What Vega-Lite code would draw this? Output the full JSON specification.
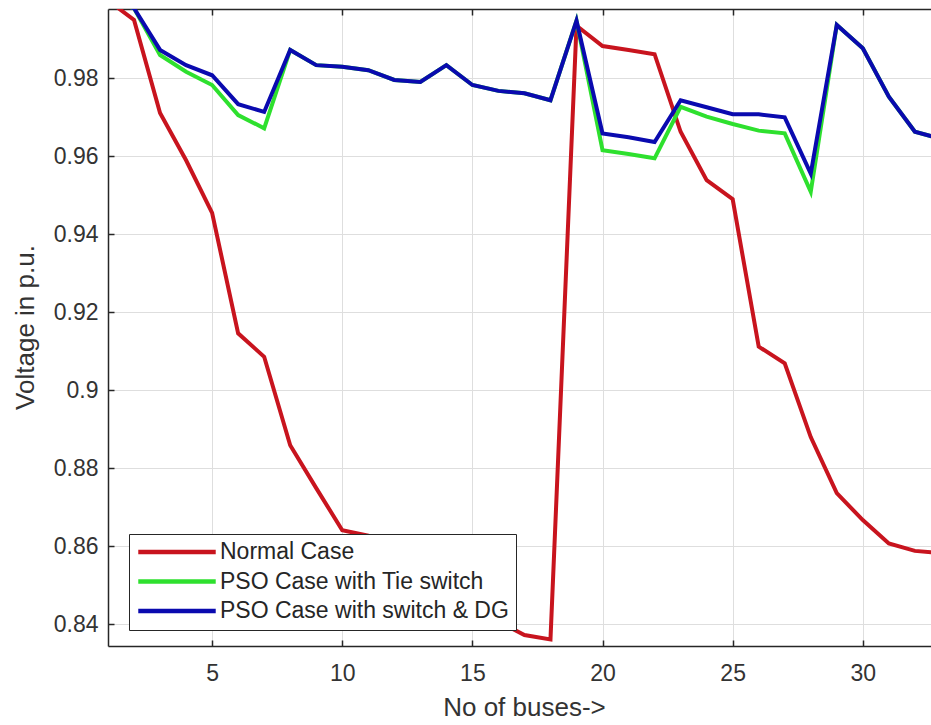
{
  "$schema": "https://vega.github.io/schema/vega-lite/v6.json",
  "autosize": "none",
  "width": 823,
  "height": 637,
  "padding": {"left": 108, "top": 9, "right": 0, "bottom": 79},
  "background": "white",
  "config": {
    "view": {"stroke": null},
    "font": "Liberation Sans"
  },
  "data": {
    "values": [
      {"bus": 1, "v": 1.0, "series": "Normal Case"},
      {"bus": 2, "v": 0.995, "series": "Normal Case"},
      {"bus": 3, "v": 0.9711, "series": "Normal Case"},
      {"bus": 4, "v": 0.959, "series": "Normal Case"},
      {"bus": 5, "v": 0.9455, "series": "Normal Case"},
      {"bus": 6, "v": 0.9146, "series": "Normal Case"},
      {"bus": 7, "v": 0.9086, "series": "Normal Case"},
      {"bus": 8, "v": 0.8859, "series": "Normal Case"},
      {"bus": 9, "v": 0.8749, "series": "Normal Case"},
      {"bus": 10, "v": 0.8641, "series": "Normal Case"},
      {"bus": 11, "v": 0.8627, "series": "Normal Case"},
      {"bus": 12, "v": 0.8601, "series": "Normal Case"},
      {"bus": 13, "v": 0.8495, "series": "Normal Case"},
      {"bus": 14, "v": 0.8455, "series": "Normal Case"},
      {"bus": 15, "v": 0.8431, "series": "Normal Case"},
      {"bus": 16, "v": 0.8407, "series": "Normal Case"},
      {"bus": 17, "v": 0.8372, "series": "Normal Case"},
      {"bus": 18, "v": 0.8361, "series": "Normal Case"},
      {"bus": 19, "v": 0.9935, "series": "Normal Case"},
      {"bus": 20, "v": 0.9883, "series": "Normal Case"},
      {"bus": 21, "v": 0.9873, "series": "Normal Case"},
      {"bus": 22, "v": 0.9862, "series": "Normal Case"},
      {"bus": 23, "v": 0.9663, "series": "Normal Case"},
      {"bus": 24, "v": 0.9539, "series": "Normal Case"},
      {"bus": 25, "v": 0.949, "series": "Normal Case"},
      {"bus": 26, "v": 0.9112, "series": "Normal Case"},
      {"bus": 27, "v": 0.9069, "series": "Normal Case"},
      {"bus": 28, "v": 0.888, "series": "Normal Case"},
      {"bus": 29, "v": 0.8736, "series": "Normal Case"},
      {"bus": 30, "v": 0.8667, "series": "Normal Case"},
      {"bus": 31, "v": 0.8607, "series": "Normal Case"},
      {"bus": 32, "v": 0.8588, "series": "Normal Case"},
      {"bus": 33, "v": 0.8582, "series": "Normal Case"},
      {"bus": 1, "v": 1.0, "series": "PSO Case with Tie switch"},
      {"bus": 2, "v": 0.998, "series": "PSO Case with Tie switch"},
      {"bus": 3, "v": 0.986, "series": "PSO Case with Tie switch"},
      {"bus": 4, "v": 0.9817, "series": "PSO Case with Tie switch"},
      {"bus": 5, "v": 0.9783, "series": "PSO Case with Tie switch"},
      {"bus": 6, "v": 0.9706, "series": "PSO Case with Tie switch"},
      {"bus": 7, "v": 0.9672, "series": "PSO Case with Tie switch"},
      {"bus": 8, "v": 0.9873, "series": "PSO Case with Tie switch"},
      {"bus": 9, "v": 0.9834, "series": "PSO Case with Tie switch"},
      {"bus": 10, "v": 0.983, "series": "PSO Case with Tie switch"},
      {"bus": 11, "v": 0.9821, "series": "PSO Case with Tie switch"},
      {"bus": 12, "v": 0.9796, "series": "PSO Case with Tie switch"},
      {"bus": 13, "v": 0.9791, "series": "PSO Case with Tie switch"},
      {"bus": 14, "v": 0.9834, "series": "PSO Case with Tie switch"},
      {"bus": 15, "v": 0.9783, "series": "PSO Case with Tie switch"},
      {"bus": 16, "v": 0.9768, "series": "PSO Case with Tie switch"},
      {"bus": 17, "v": 0.9762, "series": "PSO Case with Tie switch"},
      {"bus": 18, "v": 0.9744, "series": "PSO Case with Tie switch"},
      {"bus": 19, "v": 0.9948, "series": "PSO Case with Tie switch"},
      {"bus": 20, "v": 0.9616, "series": "PSO Case with Tie switch"},
      {"bus": 21, "v": 0.9606, "series": "PSO Case with Tie switch"},
      {"bus": 22, "v": 0.9595, "series": "PSO Case with Tie switch"},
      {"bus": 23, "v": 0.9727, "series": "PSO Case with Tie switch"},
      {"bus": 24, "v": 0.9702, "series": "PSO Case with Tie switch"},
      {"bus": 25, "v": 0.9683, "series": "PSO Case with Tie switch"},
      {"bus": 26, "v": 0.9666, "series": "PSO Case with Tie switch"},
      {"bus": 27, "v": 0.9659, "series": "PSO Case with Tie switch"},
      {"bus": 28, "v": 0.9509, "series": "PSO Case with Tie switch"},
      {"bus": 29, "v": 0.9937, "series": "PSO Case with Tie switch"},
      {"bus": 30, "v": 0.9877, "series": "PSO Case with Tie switch"},
      {"bus": 31, "v": 0.9753, "series": "PSO Case with Tie switch"},
      {"bus": 32, "v": 0.9663, "series": "PSO Case with Tie switch"},
      {"bus": 33, "v": 0.9645, "series": "PSO Case with Tie switch"},
      {"bus": 1, "v": 1.0, "series": "PSO Case with switch & DG"},
      {"bus": 2, "v": 0.998, "series": "PSO Case with switch & DG"},
      {"bus": 3, "v": 0.9873, "series": "PSO Case with switch & DG"},
      {"bus": 4, "v": 0.9834, "series": "PSO Case with switch & DG"},
      {"bus": 5, "v": 0.9808, "series": "PSO Case with switch & DG"},
      {"bus": 6, "v": 0.9734, "series": "PSO Case with switch & DG"},
      {"bus": 7, "v": 0.9714, "series": "PSO Case with switch & DG"},
      {"bus": 8, "v": 0.9873, "series": "PSO Case with switch & DG"},
      {"bus": 9, "v": 0.9834, "series": "PSO Case with switch & DG"},
      {"bus": 10, "v": 0.983, "series": "PSO Case with switch & DG"},
      {"bus": 11, "v": 0.9821, "series": "PSO Case with switch & DG"},
      {"bus": 12, "v": 0.9796, "series": "PSO Case with switch & DG"},
      {"bus": 13, "v": 0.9791, "series": "PSO Case with switch & DG"},
      {"bus": 14, "v": 0.9834, "series": "PSO Case with switch & DG"},
      {"bus": 15, "v": 0.9783, "series": "PSO Case with switch & DG"},
      {"bus": 16, "v": 0.9768, "series": "PSO Case with switch & DG"},
      {"bus": 17, "v": 0.9762, "series": "PSO Case with switch & DG"},
      {"bus": 18, "v": 0.9744, "series": "PSO Case with switch & DG"},
      {"bus": 19, "v": 0.9948, "series": "PSO Case with switch & DG"},
      {"bus": 20, "v": 0.9659, "series": "PSO Case with switch & DG"},
      {"bus": 21, "v": 0.9649, "series": "PSO Case with switch & DG"},
      {"bus": 22, "v": 0.9637, "series": "PSO Case with switch & DG"},
      {"bus": 23, "v": 0.9744, "series": "PSO Case with switch & DG"},
      {"bus": 24, "v": 0.9726, "series": "PSO Case with switch & DG"},
      {"bus": 25, "v": 0.9708, "series": "PSO Case with switch & DG"},
      {"bus": 26, "v": 0.9708, "series": "PSO Case with switch & DG"},
      {"bus": 27, "v": 0.97, "series": "PSO Case with switch & DG"},
      {"bus": 28, "v": 0.9556, "series": "PSO Case with switch & DG"},
      {"bus": 29, "v": 0.9937, "series": "PSO Case with switch & DG"},
      {"bus": 30, "v": 0.9877, "series": "PSO Case with switch & DG"},
      {"bus": 31, "v": 0.9753, "series": "PSO Case with switch & DG"},
      {"bus": 32, "v": 0.9663, "series": "PSO Case with switch & DG"},
      {"bus": 33, "v": 0.9645, "series": "PSO Case with switch & DG"}
    ]
  },
  "layer": [
    {
      "mark": {"type": "line", "strokeWidth": 4, "clip": true},
      "encoding": {
        "x": {
          "field": "bus", "type": "quantitative",
          "scale": {"domain": [1, 32.62], "nice": false, "zero": false},
          "axis": {
            "orient": "bottom",
            "values": [5, 10, 15, 20, 25, 30],
            "grid": true, "gridColor": "#dedede", "gridWidth": 1,
            "domainColor": "#262626", "domainWidth": 1.5,
            "tickColor": "#262626", "tickSize": -6, "tickWidth": 1.5,
            "labelFontSize": 23, "labelColor": "#333333", "labelPadding": 22,
            "labelFont": "Liberation Sans",
            "title": "No of buses->", "titleFontSize": 26, "titleFontWeight": "normal",
            "titleColor": "#333333", "titleFont": "Liberation Sans",
            "titleX": 416, "titleY": 69, "titleBaseline": "alphabetic", "titleAnchor": "middle", "titleAlign": "center"
          }
        },
        "y": {
          "field": "v", "type": "quantitative",
          "scale": {"domain": [0.8344, 0.9978], "nice": false, "zero": false},
          "axis": {
            "values": [0.84, 0.86, 0.88, 0.9, 0.92, 0.94, 0.96, 0.98],
            "format": ".2~f",
            "grid": true, "gridColor": "#dedede", "gridWidth": 1,
            "domainColor": "#262626", "domainWidth": 1.5,
            "tickColor": "#262626", "tickSize": -6, "tickWidth": 1.5,
            "labelFontSize": 23, "labelColor": "#333333", "labelPadding": 16,
            "labelFont": "Liberation Sans",
            "title": "Voltage in p.u.", "titleFontSize": 26, "titleFontWeight": "normal",
            "titleColor": "#333333", "titleFont": "Liberation Sans",
            "titleX": -83, "titleY": 318, "titleAngle": -90, "titleAlign": "center", "titleBaseline": "middle"
          }
        },
        "color": {
          "field": "series", "type": "nominal",
          "scale": {
            "domain": ["Normal Case", "PSO Case with Tie switch", "PSO Case with switch & DG"],
            "range": ["#c8141e", "#2ee02e", "#0a0aaf"]
          },
          "legend": {
            "title": null,
            "orient": "none", "legendX": 21, "legendY": 525,
            "strokeColor": "#262626", "fillColor": "white", "padding": 7,
            "symbolType": "stroke", "symbolSize": 6000, "symbolStrokeWidth": 4.5,
            "clipHeight": 22, "rowPadding": 6.5,
            "labelFontSize": 23, "labelColor": "#262626", "labelFont": "Liberation Sans",
            "labelOffset": 2, "labelLimit": 400
          }
        }
      }
    },
    {
      "mark": {"type": "line", "opacity": 0, "clip": true},
      "encoding": {
        "x": {
          "field": "bus", "type": "quantitative",
          "axis": {
            "orient": "top", "values": [5, 10, 15, 20, 25, 30],
            "labels": false, "grid": false, "title": null,
            "domainColor": "#262626", "domainWidth": 1.5,
            "tickColor": "#262626", "tickSize": -6, "tickWidth": 1.5
          }
        },
        "y": {"field": "v", "type": "quantitative"}
      }
    }
  ],
  "resolve": {"axis": {"x": "independent"}}
}
